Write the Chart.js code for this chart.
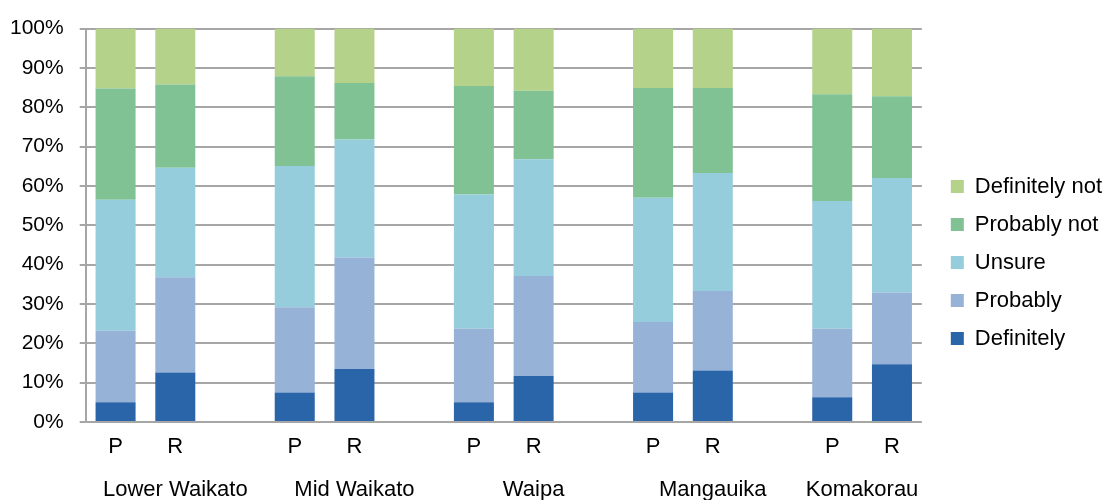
<!DOCTYPE html>
<html>
<head>
<meta charset="utf-8">
<script src="https://cdn.jsdelivr.net/npm/chart.js@4"></script>
<style>
  html, body { margin: 0; padding: 0; background: #fff; overflow: hidden; }
  #wrap { width: 1112px; height: 508px; position: relative; }
</style>
</head>
<body>
<div id="wrap"><canvas id="chart"></canvas></div>
<script>
    // Categories: P / R per catchment, with an empty slot between groups
    const barLabels = ['P', 'R', '', 'P', 'R', '', 'P', 'R', '', 'P', 'R', '', 'P', 'R'];
    const groupNames = ['Lower Waikato', 'Mid Waikato', 'Waipa', 'Mangauika', 'Komakorau'];
    const groupCentres = [1, 4, 7, 10, 12.5];  // index positions on the category axis

    // Percent of responses
    const definitely    = [5.0, 12.6, null, 7.5, 13.5, null, 5.0, 11.7, null, 7.5, 13.1, null, 6.3, 14.7];
    const probably      = [18.2, 24.2, null, 21.7, 28.3, null, 18.7, 25.4, null, 17.9, 20.2, null, 17.4, 18.2];
    const unsure        = [33.3, 27.8, null, 35.9, 30.0, null, 34.1, 29.7, null, 31.6, 30.0, null, 32.5, 29.1];
    const probablyNot   = [28.3, 21.2, null, 22.8, 14.4, null, 27.6, 17.4, null, 27.9, 21.6, null, 27.1, 20.8];
    const definitelyNot = [15.2, 14.2, null, 12.1, 13.8, null, 14.6, 15.8, null, 15.1, 15.1, null, 16.7, 17.2];

    const yTicks = [0, 10, 20, 30, 40, 50, 60, 70, 80, 90, 100];

    const family = "'Liberation Sans', Arial, sans-serif";
    const yFont = { family: family, size: 21 };
    const xFont = { family: family, size: 22 };

    const chartData = {
        labels: barLabels,
        datasets: [
            { label: 'Definitely', data: definitely, backgroundColor: '#2b65a9' },
            { label: 'Probably', data: probably, backgroundColor: '#96b3d7' },
            { label: 'Unsure', data: unsure, backgroundColor: '#95cddc' },
            { label: 'Probably not', data: probablyNot, backgroundColor: '#80c293' },
            { label: 'Definitely not', data: definitelyNot, backgroundColor: '#b5d28b' }
        ]
    };

    const config = {
        type: 'bar',
        data: chartData,
        options: {
            responsive: true,
            maintainAspectRatio: false,
            animation: false,
            datasets: {
                bar: { categoryPercentage: 1, barPercentage: 0.67, borderWidth: 0 }
            },
            layout: { padding: { left: -6, top: 17, right: 0, bottom: 0 } },
            plugins: {
                legend: {
                    position: 'right',
                    reverse: true,
                    labels: {
                        font: xFont,
                        color: '#000',
                        boxWidth: 13,
                        boxHeight: 13,
                        padding: 16
                    }
                },
                tooltip: { enabled: false }
            },
            scales: {
                x: {
                    stacked: true,
                    grid: { display: false, drawTicks: false },
                    border: { display: false },
                    ticks: { font: xFont, color: '#000', padding: 11.8, maxRotation: 0, autoSkip: false }
                },
                // second row of labels for the catchment names
                x2: {
                    type: 'linear',
                    position: 'bottom',
                    offset: false,
                    min: -0.5,
                    max: barLabels.length - 0.5,
                    grid: { display: false, drawTicks: false },
                    border: { display: false },
                    afterBuildTicks: function(axis) {
                        axis.ticks = groupCentres.map(v => ({ value: v }));
                    },
                    ticks: {
                        font: xFont,
                        color: '#000',
                        padding: 4.8,
                        maxRotation: 0,
                        autoSkip: false,
                        callback: function(value, index) { return groupNames[index]; }
                    }
                },
                y: {
                    stacked: true,
                    min: 0,
                    max: 100,
                    afterBuildTicks: function(axis) {
                        axis.ticks = yTicks.map(v => ({ value: v }));
                    },
                    grid: { color: '#a6a6a6', lineWidth: 2, tickLength: 6 },
                    border: { color: '#a6a6a6', width: 2 },
                    ticks: {
                        font: yFont,
                        color: '#000',
                        padding: 16,
                        callback: function(value) { return value + '%'; }
                    }
                },
                // empty spacer between the plot and the legend
                gap: {
                    position: 'right',
                    grid: { display: false, drawTicks: false },
                    border: { display: false },
                    ticks: { display: false },
                    afterFit: function(axis) { axis.width = 13; }
                }
            }
        }
    };

    new Chart(document.getElementById('chart').getContext('2d'), config);
</script>
</body>
</html>
